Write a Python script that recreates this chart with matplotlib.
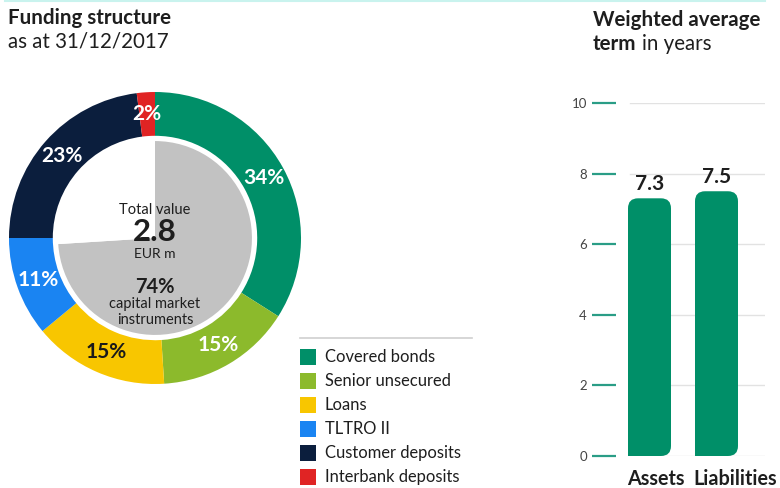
import matplotlib
matplotlib.use("Agg")
import matplotlib.pyplot as plt
from matplotlib.path import Path
from matplotlib.patches import PathPatch, Rectangle
from matplotlib.lines import Line2D

plt.rcParams['font.family'] = ['Lato', 'DejaVu Sans']

# ---- data ----
categories = ["Covered bonds", "Senior unsecured", "Loans", "TLTRO II",
              "Customer deposits", "Interbank deposits"]
shares = [34, 15, 15, 11, 23, 2]
colors = ["#008f68", "#8cba2c", "#f8c600", "#1a84f2", "#0b1e3d", "#e02424"]
pct_text_colors = ["white", "white", "#1a1a1a", "white", "white", "white"]
capital_market_share = 74
total_value = "2.8"

term_labels = ["Assets", "Liabilities"]
term_values = [7.3, 7.5]
y_ticks = [0, 2, 4, 6, 8, 10]

W, H = 780, 488
fig = plt.figure(figsize=(W / 100, H / 100), dpi=100)
fig.patch.set_facecolor("white")


def fx(x):
    return x / W


def fy(y):
    return 1 - y / H


dark = "#1e1e1e"
TS = 14.8

# top cyan line
fig.add_artist(Line2D([fx(5), fx(765)], [fy(1), fy(1)], color="#c9f3ee", lw=1.5))

# ---- titles ----
fig.text(fx(8), fy(18), "Funding structure", fontsize=TS, fontweight="bold",
         color=dark, va="center", ha="left")
fig.text(fx(8), fy(42), "as at 31/12/2017", fontsize=TS, color=dark,
         va="center", ha="left")
fig.text(fx(593), fy(20), "Weighted average", fontsize=TS, fontweight="bold",
         color=dark, va="center", ha="left")
t = fig.text(fx(593), fy(44), "term", fontsize=TS, fontweight="bold",
             color=dark, va="center", ha="left")
fig.canvas.draw()
bb = t.get_window_extent()
fig.text(bb.x1 / fig.dpi / fig.get_figwidth() + 5 / W, fy(44), "in years",
         fontsize=TS, color=dark, va="center", ha="left")

# ---- donut ----
axp = fig.add_axes([fx(9), fy(384), 292 / W, 292 / H])
wedges, _, autotexts = axp.pie(
    shares, colors=colors, radius=1.0, startangle=90, counterclock=False,
    wedgeprops=dict(width=0.30, edgecolor="none"),
    autopct=lambda p: f"{p:.0f}%", pctdistance=0.85)
for at, c in zip(autotexts, pct_text_colors):
    at.set_color(c)
    at.set_fontsize(15)
    at.set_fontweight("bold")
axp.pie([capital_market_share, 100 - capital_market_share],
        colors=["#c2c2c2", "white"], radius=0.664, startangle=90,
        counterclock=False, wedgeprops=dict(edgecolor="none"))
axp.set_xlim(-1, 1)
axp.set_ylim(-1, 1)
axp.set_aspect("equal")
axp.axis("off")

cx = 155
fig.text(fx(cx), fy(210), "Total value", fontsize=10.5, color=dark, ha="center", va="center")
fig.text(fx(cx), fy(232), total_value, fontsize=22.5, fontweight="bold", color=dark,
         ha="center", va="center")
fig.text(fx(cx), fy(254), "EUR m", fontsize=10, color=dark, ha="center", va="center")
fig.text(fx(cx), fy(287), f"{capital_market_share}%", fontsize=14.5, fontweight="bold",
         color=dark, ha="center", va="center")
fig.text(fx(cx), fy(304), "capital market", fontsize=10.5, color=dark, ha="center", va="center")
fig.text(fx(cx), fy(320), "instruments", fontsize=10.5, color=dark, ha="center", va="center")

# ---- legend ----
fig.add_artist(Line2D([fx(300), fx(472)], [fy(338), fy(338)], color="#cfcfcf", lw=1.2))
for i, (lab, col) in enumerate(zip(categories, colors)):
    yc = 357 + i * 24
    fig.add_artist(Rectangle((fx(300), fy(yc + 8)), 16 / W, 16 / H,
                             transform=fig.transFigure, facecolor=col, edgecolor="none"))
    fig.text(fx(325), fy(yc), lab, fontsize=11.9, color=dark, ha="left", va="center")

# ---- bar chart ----
axb = fig.add_axes([fx(616), fy(456), (765 - 616) / W, (456 - 103) / H])
axb.set_xlim(-0.5, 1.724)
axb.set_ylim(0, 10)
for s in axb.spines.values():
    s.set_visible(False)
axb.set_xticks([])
axb.set_yticks(y_ticks)
axb.set_yticklabels([str(v) for v in y_ticks])
axb.tick_params(axis="y", length=17, width=1.6, color="#2a9d86", pad=4,
                labelsize=9.5, labelcolor="#444444")
for v in y_ticks:
    axb.axhline(v, xmin=14 / 149, xmax=1, color="#e2e2e2", lw=1, zorder=0)
axb.patch.set_alpha(0)

bw = 43 / 67
rx = 10 / 67
ry = 10 / 35.3
for i, (lab, val) in enumerate(zip(term_labels, term_values)):
    x0, x1 = i - bw / 2, i + bw / 2
    verts = [(x0, 0), (x1 - rx, 0), (x1, 0), (x1, ry), (x1, val - ry), (x1, val),
             (x1 - rx, val), (x0 + rx, val), (x0, val), (x0, val - ry), (x0, 0), (x0, 0)]
    codes = [Path.MOVETO, Path.LINETO, Path.CURVE3, Path.CURVE3, Path.LINETO,
             Path.CURVE3, Path.CURVE3, Path.LINETO, Path.CURVE3, Path.CURVE3,
             Path.LINETO, Path.CLOSEPOLY]
    axb.add_patch(PathPatch(Path(verts, codes), facecolor="#008f68",
                            edgecolor="none", zorder=2))
    axb.annotate(f"{val}", (i, val), xytext=(0, 3), textcoords="offset points",
                 ha="center", va="bottom", fontsize=15, fontweight="bold", color=dark)
    axb.text(x0 - 0.02, -0.65, lab, ha="left", va="center", fontsize=14.2,
             fontweight="bold", color=dark, clip_on=False)

fig.savefig("out.png", dpi=100, facecolor="white")
